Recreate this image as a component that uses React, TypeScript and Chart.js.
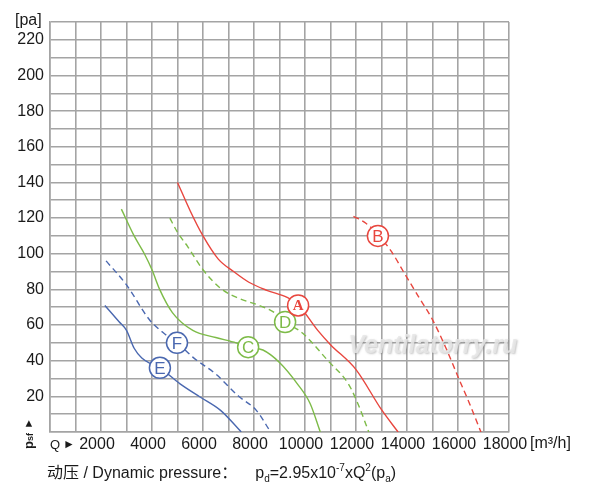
import React, { useEffect, useRef } from "react";
import { Chart, registerables } from "chart.js";

Chart.register(...registerables);

// ---- data (x: m³/h, y: Pa) ----
const curveA: [number, number][] = [[5000,140],[5500,124],[6000,110],[6600,97],[7200,90],[7800,84],[8500,79.5],[9300,75.5],[9700,72],[10500,57],[11000,49],[12000,35],[13000,12.5],[13650,0]];
const curveB: [number, number][] = [[11900,121],[12400,117],[12900,110],[13400,101],[13900,89],[14450,76],[15000,63],[15500,48],[16000,31],[16450,16],[16900,0]];
const curveC: [number, number][] = [[2800,125],[3300,110],[3700,100],[4000,91],[4300,80],[4800,67],[5600,57],[6500,53],[7300,50],[7800,47.5],[8350,46],[9000,39],[9700,27],[10200,16],[10600,0]];
const curveD: [number, number][] = [[4700,120],[5000,112],[5400,104],[6000,91],[6700,80.5],[7400,75],[8200,71],[8800,67],[9200,62],[9900,55.5],[10900,40],[11700,27],[12100,15],[12500,0]];
const curveE: [number, number][] = [[2150,71],[2700,62],[3000,57],[3300,47],[3600,41.5],[4000,38],[4300,36],[5100,27],[5900,19.5],[6700,12],[7500,0]];
const curveF: [number, number][] = [[2200,96],[3000,82.5],[3900,63],[4500,55],[5000,50],[5600,42],[6500,32.5],[7400,20],[8100,12],[8650,0]];

const curveNames = ["A", "B", "C", "D", "E", "F"];
const labelX = [9730, 12860, 7770, 9220, 4310, 4980];
const labelY = [71, 110, 47.6, 61.7, 36, 50];

const xTickValues = [2000, 4000, 6000, 8000, 10000, 12000, 14000, 16000, 18000];
const yTickValues = [20, 40, 60, 80, 100, 120, 140, 160, 180, 200, 220];

const RED = "#e8463e";
const GREEN = "#7dbb48";
const BLUE = "#4a68b0";
const GRID = "#a4a4a4";
const FONT = '"Liberation Sans", Arial, "Noto Sans CJK SC", sans-serif';

const curves = [curveA, curveB, curveC, curveD, curveE, curveF];
const colors = [RED, RED, GREEN, GREEN, BLUE, BLUE];
const dashed = [false, true, false, true, false, true];

const extrasPlugin = {
  id: "extras",
  beforeDatasetsDraw(chart: any) {
    const ctx = chart.ctx;
    const xs = chart.scales.x;
    const ys = chart.scales.y;
    ctx.save();
    ctx.font = `italic bold 25px ${FONT}`;
    ctx.textAlign = "left";
    ctx.textBaseline = "middle";
    ctx.shadowColor = "rgba(110,110,110,0.45)";
    ctx.shadowBlur = 2;
    ctx.shadowOffsetX = 1;
    ctx.shadowOffsetY = 1;
    ctx.fillStyle = "rgba(232,232,232,0.85)";
    ctx.fillText("Ventilatorry.ru", xs.getPixelForValue(11700), ys.getPixelForValue(48));
    ctx.restore();
  },
  afterDatasetsDraw(chart: any) {
    const ctx = chart.ctx;
    const xs = chart.scales.x;
    const ys = chart.scales.y;
    const area = chart.chartArea;
    ctx.save();
    // curve letters
    ctx.textAlign = "center";
    ctx.textBaseline = "middle";
    curveNames.forEach((n, i) => {
      const px = xs.getPixelForValue(labelX[i]);
      const py = ys.getPixelForValue(labelY[i]);
      ctx.fillStyle = colors[i];
      ctx.font = n === "A" ? `bold 15px "Liberation Serif", serif` : `17px ${FONT}`;
      ctx.fillText(n, px, py + 1);
    });

    ctx.fillStyle = "#1a1a1a";
    // [pa]
    ctx.textAlign = "left";
    ctx.textBaseline = "alphabetic";
    ctx.font = `16px ${FONT}`;
    ctx.fillText("[pa]", 15, 25);

    // [m³/h]
    ctx.textBaseline = "middle";
    ctx.fillText("[m³/h]", area.right + 21, 444);

    // Q ►
    ctx.font = `13px ${FONT}`;
    ctx.fillText("Q", area.left, 445);
    ctx.font = `12px ${FONT}`;
    ctx.fillText("►", area.left + 13, 445);

    // p_sf ▲ rotated
    ctx.save();
    ctx.translate(29, 449);
    ctx.rotate(-Math.PI / 2);
    ctx.textBaseline = "middle";
    ctx.font = `bold 13px ${FONT}`;
    ctx.fillText("p", 0, 0);
    let w = ctx.measureText("p").width;
    ctx.font = `bold 9px ${FONT}`;
    ctx.fillText("sf", w, 2);
    w += ctx.measureText("sf").width + 4;
    ctx.font = `11px ${FONT}`;
    ctx.fillText("►", w, 0);
    ctx.restore();

    // bottom formula
    let x = 47;
    const by = 478;
    ctx.textBaseline = "alphabetic";
    const put = (t: string, size: number, dy: number) => {
      ctx.font = `${size}px ${FONT}`;
      ctx.fillText(t, x, by + dy);
      x += ctx.measureText(t).width;
    };
    put("动压 / Dynamic pressure：", 16, 0);
    x += 18;
    put("p", 16, 0);
    put("d", 10, 4);
    put("=2.95x10", 16, 0);
    put("-7", 10, -7);
    put("xQ", 16, 0);
    put("2", 10, -7);
    put("(p", 16, 0);
    put("a", 10, 4);
    put(")", 16, 0);
    ctx.restore();
  },
};

export default function App() {
  const ref = useRef<HTMLCanvasElement | null>(null);
  useEffect(() => {
    if (!ref.current) return;
    const datasets: any[] = curves.map((c, i) => ({
      label: curveNames[i],
      data: c.map(([x, y]) => ({ x, y })),
      borderColor: colors[i],
      borderWidth: 1.4,
      borderDash: dashed[i] ? [6, 4] : [],
      pointRadius: 0,
      tension: 0.4,
      cubicInterpolationMode: "monotone",
      fill: false,
      order: 2,
    }));
    curveNames.forEach((n, i) => {
      datasets.push({
        label: "mark" + n,
        type: "scatter",
        data: [{ x: labelX[i], y: labelY[i] }],
        pointRadius: 10.5,
        pointHoverRadius: 10.5,
        pointBackgroundColor: "#ffffff",
        pointBorderColor: colors[i],
        pointBorderWidth: 1.5,
        showLine: false,
        order: 1,
      });
    });
    const chart = new Chart(ref.current, {
      type: "line",
      data: { datasets },
      plugins: [extrasPlugin],
      options: {
        responsive: false,
        animation: false,
        events: [],
        layout: { padding: { top: 22, right: 91, left: 0, bottom: 0 } },
        plugins: { legend: { display: false }, tooltip: { enabled: false }, title: { display: false } },
        scales: {
          x: {
            type: "linear",
            min: 0,
            max: 18000,
            afterFit: (s: any) => { s.height = 63; },
            afterBuildTicks: (s: any) => {
              const t = [];
              for (let v = 0; v <= 18000; v += 1000) t.push({ value: v });
              s.ticks = t;
            },
            ticks: {
              autoSkip: false,
              maxRotation: 0,
              minRotation: 0,
              padding: 3,
              labelOffset: -4,
              color: "#1a1a1a",
              font: { family: FONT, size: 16 },
              callback: (v: any) => (xTickValues.includes(Number(v)) ? String(v) : ""),
            },
            grid: { color: GRID, lineWidth: 1.6, drawTicks: false },
            border: { color: GRID, width: 1.6 },
          },
          y: {
            type: "linear",
            min: 0,
            max: 230,
            afterFit: (s: any) => { s.width = 50; },
            afterBuildTicks: (s: any) => {
              const t = [];
              for (let v = 0; v <= 230; v += 10) t.push({ value: v });
              s.ticks = t;
            },
            ticks: {
              autoSkip: false,
              padding: 6,
              color: "#1a1a1a",
              font: { family: FONT, size: 16 },
              callback: (v: any) => (yTickValues.includes(Number(v)) ? String(v) : ""),
            },
            grid: { color: GRID, lineWidth: 1.6, drawTicks: false },
            border: { color: GRID, width: 1.6 },
          },
        },
      } as any,
    });
    return () => chart.destroy();
  }, []);
  return (
    <div style={{ position: "fixed", left: 0, top: 0, width: 600, height: 495, background: "#fff" }}>
      <canvas ref={ref} width={600} height={495} style={{ width: 600, height: 495, display: "block" }} />
    </div>
  );
}
